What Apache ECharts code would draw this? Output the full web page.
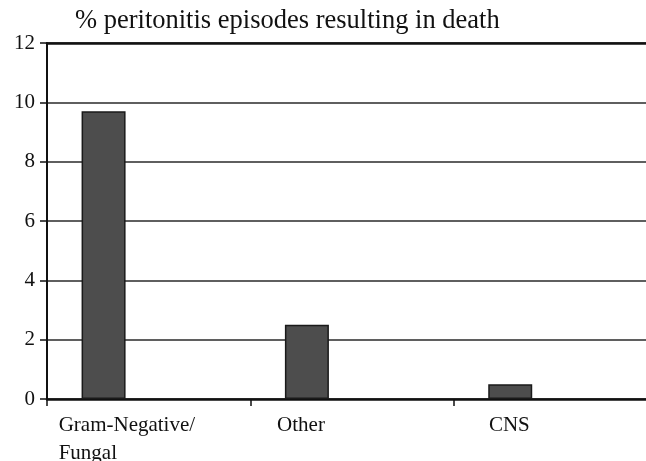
<!DOCTYPE html>
<html>
<head>
<meta charset="utf-8">
<script src="https://cdn.jsdelivr.net/npm/echarts@6/dist/echarts.min.js"></script>
<style>html,body{margin:0;padding:0;background:#fff}#c{width:646px;height:461px}</style>
</head>
<body>
<div id="c"></div>
<script>
var categories = ['Gram-Negative/\nFungal', 'Other', 'CNS'];
var deathPct = [9.7, 2.5, 0.5];
var emptySeries = [null, null, null];
var yTicks = [0, 2, 4, 6, 8, 10, 12];
var titleText = '% peritonitis episodes resulting in death';

var FONT = "'Liberation Serif', 'Times New Roman', serif";
var chart = echarts.init(document.getElementById('c'), null, {renderer: 'canvas'});
chart.setOption({
  animation: false,
  backgroundColor: '#fff',
  title: {
    text: titleText,
    left: 70,
    top: 3,
    textStyle: {fontFamily: FONT, fontSize: 26.5, fontWeight: 'normal', color: '#111'}
  },
  grid: {left: 47, right: -11, top: 43, bottom: 62, containLabel: false, outerBoundsMode: 'none'},
  xAxis: [{
    type: 'category',
    data: categories,
    position: 'bottom',
    axisLine: {lineStyle: {color: '#111', width: 2.5}},
    axisTick: {show: true, length: 7, lineStyle: {color: '#111', width: 1.5}},
    axisLabel: {
      margin: 12,
      interval: 0,
      hideOverlap: false,
      fontFamily: FONT,
      fontSize: 21,
      color: '#111',
      lineHeight: 28,
      formatter: function (v, i) {
        if (i === 0) {
          var parts = v.split('\n');
          return '{g|' + parts[0] + '}{s0| }\n{g|' + parts[1] + '}{s0| }';
        }
        if (i === 1) return '{t|' + v + '}{s1| }';
        return '{t|' + v + '}{s2| }';
      },
      rich: {
        g: {width: 138, align: 'left', fontFamily: FONT, fontSize: 21, color: '#111', lineHeight: 28},
        t: {fontFamily: FONT, fontSize: 21, color: '#111', lineHeight: 28},
        s0: {width: 42, fontSize: 21, lineHeight: 28},
        s1: {width: 102, fontSize: 21, lineHeight: 28},
        s2: {width: 92, fontSize: 21, lineHeight: 28}
      }
    },
    splitLine: {show: false}
  }, {
    type: 'category',
    data: categories,
    position: 'top',
    axisLine: {lineStyle: {color: '#111', width: 2.5}},
    axisTick: {show: false},
    axisLabel: {show: false},
    splitLine: {show: false}
  }],
  yAxis: {
    type: 'value',
    min: 0,
    max: 12,
    interval: 2,
    axisLine: {show: true, lineStyle: {color: '#111', width: 2}},
    axisTick: {show: true, length: 7, lineStyle: {color: '#111', width: 1.5}},
    axisLabel: {
      margin: 12,
      fontFamily: FONT,
      fontSize: 21,
      color: '#111',
      formatter: function (v) { return yTicks.indexOf(v) >= 0 ? String(v) : ''; }
    },
    splitLine: {show: true, lineStyle: {color: '#2a2a2a', width: 1.5}}
  },
  series: [{
    type: 'bar',
    data: deathPct,
    barWidth: 44,
    barGap: '105%',
    itemStyle: {color: '#4d4d4d', borderColor: '#1a1a1a', borderWidth: 1.5}
  }, {
    type: 'bar',
    data: emptySeries,
    barWidth: 44,
    itemStyle: {color: '#4d4d4d'}
  }]
});
</script>
</body>
</html>
